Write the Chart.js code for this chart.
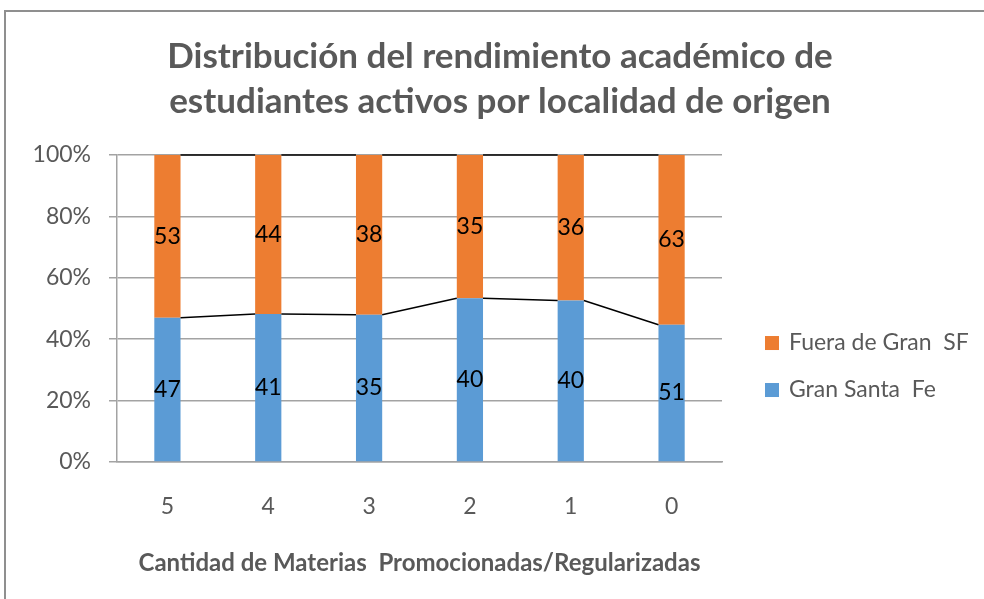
<!DOCTYPE html>
<html>
<head>
<meta charset="utf-8">
<script src="https://cdn.jsdelivr.net/npm/chart.js@4.4.0/dist/chart.umd.min.js"></script>
<style>
  html, body { margin: 0; padding: 0; background: #fff; }
  #frame { position: absolute; left: 4px; top: 10px; width: 1100px; height: 700px;
           border-top: 2px solid #8f8f8f; border-left: 2px solid #8f8f8f; }
  #wrap { position: absolute; left: 0; top: 0; width: 984px; height: 599px; }
</style>
</head>
<body>
<div id="frame"></div>
<div id="wrap"><canvas id="chart"></canvas></div>
<script>
// categories and counts per locality
var categories = ['5', '4', '3', '2', '1', '0'];
var granSantaFe = [47, 41, 35, 40, 40, 51];
var fueraGranSF = [53, 44, 38, 35, 36, 63];
var yTicks = [0, 20, 40, 60, 80, 100];

var BLUE   = '#5B9BD5';
var ORANGE = '#ED7D31';
var GRAY   = '#595959';
var GRID   = '#a3a3a3';
var FONT   = 'Lato';

// 100% stacked: convert counts into shares of each column
function share(a, b) {
  return a.map(function (v, i) { return v / (a[i] + b[i]) * 100; });
}

Chart.defaults.font.family = FONT;
Chart.defaults.color = GRAY;

// numbers written in the middle of each segment
var segmentLabels = {
  id: 'segmentLabels',
  afterDatasetsDraw: function (chart) {
    var ctx = chart.ctx;
    ctx.save();
    ctx.fillStyle = '#000';
    ctx.font = '23px ' + FONT;
    ctx.textAlign = 'center';
    ctx.textBaseline = 'middle';
    chart.data.datasets.forEach(function (ds, di) {
      chart.getDatasetMeta(di).data.forEach(function (bar, i) {
        ctx.fillText(ds.counts[i], bar.x, (bar.y + bar.base) / 2);
      });
    });
    ctx.restore();
  }
};

// Excel style series lines joining the tops of neighbouring bars
var seriesLines = {
  id: 'seriesLines',
  afterDatasetsDraw: function (chart) {
    var ctx = chart.ctx;
    ctx.save();
    ctx.strokeStyle = '#000';
    ctx.lineWidth = 1.5;
    chart.data.datasets.forEach(function (ds, di) {
      var bars = chart.getDatasetMeta(di).data;
      for (var i = 0; i < bars.length - 1; i++) {
        var a = bars[i], b = bars[i + 1];
        ctx.beginPath();
        ctx.moveTo(a.x + a.width / 2, a.y);
        ctx.lineTo(b.x - b.width / 2, b.y);
        ctx.stroke();
      }
    });
    ctx.restore();
  }
};

// legend on the right, top series first
var sideLegend = {
  id: 'sideLegend',
  afterDraw: function (chart) {
    var ctx = chart.ctx, area = chart.chartArea;
    var sets = chart.data.datasets.slice().reverse();
    ctx.save();
    ctx.font = '23px ' + FONT;
    ctx.textAlign = 'left';
    ctx.textBaseline = 'middle';
    sets.forEach(function (ds, i) {
      var x = area.right + 43, y = area.top + 188 + i * 47;
      ctx.fillStyle = ds.backgroundColor;
      ctx.fillRect(x, y - 7, 14, 14);
      ctx.fillStyle = GRAY;
      ctx.fillText(ds.label, x + 24, y);
    });
    ctx.restore();
  }
};

new Chart(document.getElementById('chart'), {
  type: 'bar',
  data: {
    labels: categories,
    datasets: [{
      label: 'Gran Santa  Fe',
      data: share(granSantaFe, fueraGranSF),
      counts: granSantaFe,
      backgroundColor: BLUE,
      barPercentage: 0.26,
      categoryPercentage: 1
    }, {
      label: 'Fuera de Gran  SF',
      data: share(fueraGranSF, granSantaFe),
      counts: fueraGranSF,
      backgroundColor: ORANGE,
      barPercentage: 0.26,
      categoryPercentage: 1
    }]
  },
  options: {
    responsive: true,
    maintainAspectRatio: false,
    animation: false,
    layout: { padding: { left: 17, right: 1, top: 0, bottom: 0 } },
    plugins: {
      title: {
        display: true,
        text: ['Distribución del rendimiento académico de', 'estudiantes activos por localidad de origen'],
        color: GRAY,
        font: { size: 35, weight: 'bold', lineHeight: 1.286 },
        padding: { top: 34, bottom: 31 }
      },
      legend: { display: false },
      tooltip: { enabled: false }
    },
    scales: {
      x: {
        stacked: true,
        grid: { display: false },
        border: { display: true, color: GRID, width: 1.5 },
        ticks: { color: GRAY, font: { size: 23 }, padding: 23, maxRotation: 0 },
        title: {
          display: true,
          text: 'Cantidad de Materias  Promocionadas/Regularizadas',
          color: GRAY,
          font: { size: 24, weight: 'bold' },
          padding: { top: 0, bottom: 21 }
        },
        afterFit: function (scale) { scale.height = 137; }
      },
      y: {
        stacked: true,
        min: 0,
        max: 100,
        afterBuildTicks: function (axis) {
          axis.ticks = yTicks.map(function (v) { return { value: v }; });
        },
        grid: { color: GRID, lineWidth: 1.5, tickLength: 8 },
        border: { display: true, color: GRID, width: 1.5 },
        ticks: {
          color: GRAY,
          font: { size: 23 },
          padding: 18,
          callback: function (v) { return v + '%'; }
        },
        afterFit: function (scale) { scale.width = 100; }
      },
      // empty axis that keeps room for the legend on the right
      legendRoom: {
        type: 'linear',
        position: 'right',
        grid: { display: false },
        border: { display: false },
        ticks: { display: false },
        afterFit: function (scale) { scale.width = 261; }
      }
    }
  },
  plugins: [seriesLines, segmentLabels, sideLegend]
});
</script>
</body>
</html>
